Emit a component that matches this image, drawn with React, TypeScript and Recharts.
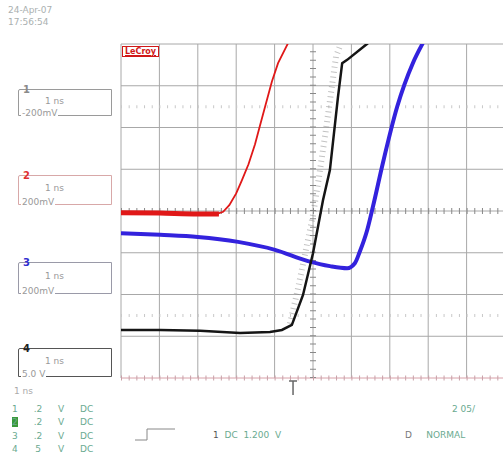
import React from 'react';
import {
  ComposedChart,
  Line,
  XAxis,
  YAxis,
  ReferenceLine,
  ReferenceDot,
} from 'recharts';

// grid divisions (x: 10 time divs, y: 8 vertical divs)
const xDivs = [0, 1, 2, 3, 4, 5, 6, 7, 8, 9, 10];
const yDivs = [-4, -3, -2, -1, 0, 1, 2, 3, 4];
const dottedLevels = [2.5, -2.5];

// trace 2 (red) – flat noisy part and the rising edge
const redFlat = [
  { x: 0, y: -0.04 },
  { x: 1.0, y: -0.05 },
  { x: 2.0, y: -0.07 },
  { x: 2.55, y: -0.07 },
];
const redRise = [
  { x: 2.5, y: -0.07 },
  { x: 2.66, y: -0.02 },
  { x: 2.82, y: 0.14 },
  { x: 3.0, y: 0.42 },
  { x: 3.15, y: 0.74 },
  { x: 3.32, y: 1.12 },
  { x: 3.49, y: 1.6 },
  { x: 3.62, y: 2.05 },
  { x: 3.75, y: 2.49 },
  { x: 3.93, y: 3.1 },
  { x: 4.09, y: 3.54 },
  { x: 4.35, y: 4.02 },
];

// trace 3 (blue)
const blue = [
  { x: 0, y: -0.53 },
  { x: 1.02, y: -0.57 },
  { x: 2.0, y: -0.62 },
  { x: 3.05, y: -0.74 },
  { x: 4.01, y: -0.93 },
  { x: 4.87, y: -1.2 },
  { x: 5.44, y: -1.32 },
  { x: 5.89, y: -1.37 },
  { x: 6.09, y: -1.25 },
  { x: 6.22, y: -0.97 },
  { x: 6.41, y: -0.46 },
  { x: 6.56, y: 0.1 },
  { x: 6.82, y: 1.15 },
  { x: 7.19, y: 2.49 },
  { x: 7.6, y: 3.54 },
  { x: 7.86, y: 4.02 },
];

// trace 4 (black)
const black = [
  { x: 0, y: -2.85 },
  { x: 1.02, y: -2.85 },
  { x: 2.06, y: -2.87 },
  { x: 3.1, y: -2.92 },
  { x: 3.88, y: -2.9 },
  { x: 4.19, y: -2.85 },
  { x: 4.45, y: -2.73 },
  { x: 4.74, y: -2.01 },
  { x: 5.0, y: -1.01 },
  { x: 5.26, y: 0.26 },
  { x: 5.44, y: 0.98 },
  { x: 5.65, y: 2.73 },
  { x: 5.76, y: 3.54 },
  { x: 5.89, y: 3.62 },
  { x: 6.43, y: 4.02 },
];

// scattered samples to the left of the black edge
const blackNoise = [
  { x: 4.4, y: -2.7 },
  { x: 4.6, y: -1.9 },
  { x: 4.8, y: -1.0 },
  { x: 5.0, y: -0.1 },
  { x: 5.17, y: 0.9 },
  { x: 5.33, y: 1.9 },
  { x: 5.48, y: 2.9 },
  { x: 5.6, y: 3.7 },
  { x: 5.72, y: 4.0 },
];

const triggerPos = 4.48;

const channelBoxes = [
  { n: '1', top: 89, h: 25, color: '#9a9a9a', numColor: '#8a8a8a', lines: ['1 ns', '-200mV'] },
  { n: '2', top: 175, h: 28, color: '#d8a8a8', numColor: '#e03030', lines: ['1 ns', '200mV'] },
  { n: '3', top: 262, h: 30, color: '#9a9aa8', numColor: '#3030d0', lines: ['1 ns', '200mV'] },
  { n: '4', top: 348, h: 27, color: '#555', numColor: '#222', lines: ['1 ns', '5.0 V'] },
];

const statusRows = [
  ['1', '.2', 'V', 'DC'],
  ['2', '.2', 'V', 'DC'],
  ['3', '.2', 'V', 'DC'],
  ['4', '5', 'V', 'DC'],
];

const font = '"DejaVu Sans", sans-serif';

const TriggerMark = (props: any) => {
  const { cx, cy } = props;
  return (
    <g>
      <line x1={cx - 4} y1={cy + 3} x2={cx + 4} y2={cy + 3} stroke="#666" strokeWidth={1.5} />
      <line x1={cx} y1={cy + 3} x2={cx} y2={cy + 17} stroke="#666" strokeWidth={1.5} />
    </g>
  );
};

function ChannelBox({ box }: { box: any }) {
  return (
    <div
      style={{
        position: 'absolute',
        left: 18,
        top: box.top,
        width: 92,
        height: box.h,
        border: `1px solid ${box.color}`,
        borderTopLeftRadius: 2,
        fontFamily: font,
        fontSize: 9,
        color: '#999',
      }}
    >
      <span style={{ position: 'absolute', left: 4, top: -6, color: box.numColor, fontSize: 10, fontWeight: 'bold' }}>
        {box.n}
      </span>
      <span style={{ position: 'absolute', left: 26, top: box.h / 2 - 7 }}>{box.lines[0]}</span>
      <span style={{ position: 'absolute', left: 2, top: box.h - 7, background: '#fff', padding: '0 1px' }}>
        {box.lines[1]}
      </span>
    </div>
  );
}

export default function App() {
  return (
    <div style={{ position: 'fixed', left: 0, top: 0, width: 503, height: 459, overflow: 'hidden', background: '#fff' }}>
      <div style={{ position: 'absolute', left: 8, top: 4, fontFamily: font, fontSize: 9, color: '#aab0b0', lineHeight: '12px' }}>
        24-Apr-07
        <br />
        17:56:54
      </div>

      {channelBoxes.map((b) => (
        <ChannelBox key={b.n} box={b} />
      ))}
      <div style={{ position: 'absolute', left: 14, top: 386, fontFamily: font, fontSize: 9, color: '#aaa' }}>1 ns</div>

      <ComposedChart
        width={510}
        height={459}
        margin={{ top: 44, left: 121, right: 5, bottom: 81 }}
        style={{ position: 'absolute', left: 0, top: 0 }}
      >
        <XAxis dataKey="x" type="number" domain={[0, 10]} hide allowDataOverflow />
        <YAxis type="number" domain={[-4, 4]} hide allowDataOverflow />
        {xDivs.map((v) => (
          <ReferenceLine key={'gx' + v} x={v} stroke="#a8a8a8" strokeWidth={1} />
        ))}
        {yDivs.map((v) => (
          <ReferenceLine key={'gy' + v} y={v} stroke={v === -4 ? '#d8a0a8' : '#a8a8a8'} strokeWidth={1} />
        ))}
        {dottedLevels.map((v) => (
          <ReferenceLine key={'d' + v} y={v} stroke="#c8c8c8" strokeWidth={3} strokeDasharray="1 6.68" />
        ))}
        <ReferenceLine y={0} stroke="#888" strokeWidth={6} strokeDasharray="1 6.68" />
        <ReferenceLine x={5} stroke="#888" strokeWidth={6} strokeDasharray="1 7.35" />
        <ReferenceLine y={-4} stroke="#c8a0a8" strokeWidth={5} strokeDasharray="1 6.68" />

        <Line data={blackNoise} dataKey="y" type="linear" stroke="#777" strokeWidth={6} strokeDasharray="1 4" strokeOpacity={0.45} dot={false} isAnimationActive={false} />
        <Line data={redFlat} dataKey="y" type="monotone" stroke="#e01818" strokeWidth={5} dot={false} isAnimationActive={false} />
        <Line data={redRise} dataKey="y" type="linear" stroke="#e01818" strokeWidth={1.8} dot={false} isAnimationActive={false} />
        <Line data={blue} dataKey="y" type="monotone" stroke="#3322dd" strokeWidth={4} dot={false} isAnimationActive={false} />
        <Line data={black} dataKey="y" type="linear" stroke="#151515" strokeWidth={2.5} dot={false} isAnimationActive={false} />

        <ReferenceDot x={triggerPos} y={-4} r={0} ifOverflow="visible" shape={TriggerMark} />
      </ComposedChart>

      <div
        style={{
          position: 'absolute',
          left: 122,
          top: 46,
          fontFamily: font,
          fontSize: 8,
          fontWeight: 'bold',
          color: '#d01818',
          border: '1px solid #d01818',
          padding: '0 2px',
          background: '#fff',
          textDecoration: 'underline',
        }}
      >
        LeCroy
      </div>

      {statusRows.map((r, i) => (
        <div key={r[0]} style={{ position: 'absolute', left: 12, top: 404 + i * 13.3, fontFamily: font, fontSize: 9, color: '#6aaa90', whiteSpace: 'pre' }}>
          <span style={{ display: 'inline-block', width: 6, background: i === 1 ? '#3a9a3a' : 'transparent' }}>{r[0]}</span>
          <span style={{ display: 'inline-block', width: 40, textAlign: 'center' }}>{r[1]}</span>
          <span style={{ display: 'inline-block', width: 22 }}>{r[2]}</span>
          <span>{r[3]}</span>
        </div>
      ))}

      <div style={{ position: 'absolute', left: 452, top: 404, fontFamily: font, fontSize: 9, color: '#6aaa90' }}>2 05/</div>

      <svg style={{ position: 'absolute', left: 135, top: 427 }} width={42} height={18}>
        <polyline points="0,13 12,13 12,2 40,2" fill="none" stroke="#888" strokeWidth={1} />
      </svg>
      <div style={{ position: 'absolute', left: 213, top: 430, fontFamily: font, fontSize: 9, color: '#6aaa90', whiteSpace: 'pre' }}>
        <span style={{ color: '#555' }}>1 </span> DC  1.200  V
      </div>
      <div style={{ position: 'absolute', left: 405, top: 430, fontFamily: font, fontSize: 9, color: '#6aaa90', whiteSpace: 'pre' }}>
        <span style={{ color: '#777' }}>D</span>     NORMAL
      </div>
    </div>
  );
}
